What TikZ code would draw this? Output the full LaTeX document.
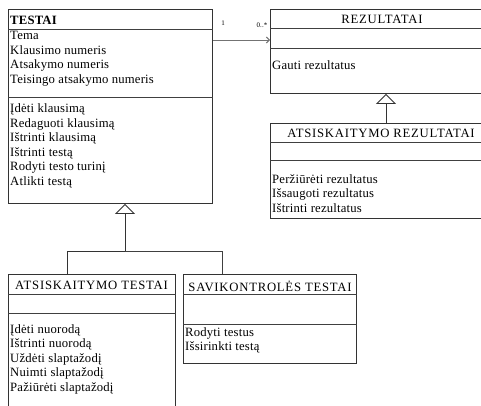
\documentclass[tikz,border=0pt]{standalone}
\usepackage{fontspec}
\setmainfont{Liberation Serif}[LetterSpace=1.5]
\newfontfamily\ttlfont{Liberation Serif}[LetterSpace=6]
\usetikzlibrary{arrows.meta}

\begin{document}
\begin{tikzpicture}[x=1pt, y=-1pt,
  cls/.style={draw=black!80, line width=0.9pt, rectangle, inner sep=0pt, anchor=north west},
  sep/.style={draw=black!75, line width=0.9pt},
  mem/.style={anchor=base west, inner sep=0pt, font=\fontsize{12.7}{14.5}\selectfont},
  ttl/.style={anchor=base, inner sep=0pt, font=\ttlfont\fontsize{12.7}{14.5}\selectfont},
  mult/.style={inner sep=0pt, font=\fontsize{7}{8}\selectfont},
  gen/.style={draw=black!80, line width=0.9pt, -{Triangle[length=10pt,width=20pt,fill=white]}},
  assoc/.style={draw=black!55, line width=1pt, -{Straight Barb[length=3pt,width=6pt]}}]

\useasboundingbox (0,0) rectangle (481,405);

\node[cls, minimum width=204pt, minimum height=194pt] (testai) at (8,9) {};
\node[cls, minimum width=223pt, minimum height=84pt] (rez) at (270,9) {};
\node[cls, minimum width=223pt, minimum height=95pt] (atsrez) at (270,123) {};
\node[cls, minimum width=167pt, minimum height=140pt] (atstest) at (8,274) {};
\node[cls, minimum width=173pt, minimum height=89pt] (savtest) at (183,274) {};

\draw[sep] ([yshift=-20pt]testai.north west) -- ([yshift=-20pt]testai.north east);
\draw[sep] ([yshift=-88pt]testai.north west) -- ([yshift=-88pt]testai.north east);
\draw[sep] ([yshift=-19pt]rez.north west) -- ([yshift=-19pt]rez.north east);
\draw[sep] ([yshift=-39pt]rez.north west) -- ([yshift=-39pt]rez.north east);
\draw[sep] ([yshift=-19pt]atsrez.north west) -- ([yshift=-19pt]atsrez.north east);
\draw[sep] ([yshift=-37pt]atsrez.north west) -- ([yshift=-37pt]atsrez.north east);
\draw[sep] ([yshift=-20pt]atstest.north west) -- ([yshift=-20pt]atstest.north east);
\draw[sep] ([yshift=-39pt]atstest.north west) -- ([yshift=-39pt]atstest.north east);
\draw[sep] ([yshift=-20pt]savtest.north west) -- ([yshift=-20pt]savtest.north east);
\draw[sep] ([yshift=-50pt]savtest.north west) -- ([yshift=-50pt]savtest.north east);

\node[mem, font=\fontsize{12.7}{14.5}\selectfont\bfseries] (testai-t) at (10,24.5) {TESTAI};
\foreach \t [count=\i] in {Tema, Klausimo numeris, Atsakymo numeris, Teisingo atsakymo numeris}
  \node[mem] (testai-a\i) at (10,25+14.5*\i) {\t};
\foreach \t [count=\i] in {Įdėti klausimą, Redaguoti klausimą, Ištrinti klausimą, Ištrinti testą, Rodyti testo turinį, Atlikti testą}
  \node[mem] (testai-o\i) at (10,98+14.5*\i) {\t};

\node[ttl] (rez-t) at (382,23.5) {REZULTATAI};
\node[mem] (rez-o1) at (272,69) {Gauti rezultatus};

\node[ttl] (atsrez-t) at (381,137.5) {ATSISKAITYMO REZULTATAI};
\foreach \t [count=\i] in {Peržiūrėti rezultatus, Išsaugoti rezultatus, Ištrinti rezultatus}
  \node[mem] (atsrez-o\i) at (272,168.5+14.5*\i) {\t};

\node[ttl] (atstest-t) at (91.5,289.5) {ATSISKAITYMO TESTAI};
\foreach \t [count=\i] in {Įdėti nuorodą, Ištrinti nuorodą, Uždėti slaptažodį, Nuimti slaptažodį, Pažiūrėti slaptažodį}
  \node[mem] (atstest-o\i) at (10,318.5+14.5*\i) {\t};

\node[ttl] (savtest-t) at (270,291.5) {SAVIKONTROLĖS TESTAI};
\foreach \t [count=\i] in {Rodyti testus, Išsirinkti testą}
  \node[mem] (savtest-o\i) at (185,321.5+14.5*\i) {\t};

\coordinate (gt) at (125,251);
\draw[gen] ([xshift=59pt]atstest.north west) |- (gt) -- (testai.south -| gt);
\draw[sep] ([xshift=39pt]savtest.north west) |- (gt);
\coordinate (gr) at (386,110);
\draw[gen] (atsrez.north -| gr) -- (rez.south -| gr);

\draw[assoc] ([yshift=-31pt]testai.north east) -- ([yshift=-31pt]rez.north west);
\node[mult] (m1) at (223,23) {1};
\node[mult] (m2) at (262,25) {0..*};
\end{tikzpicture}
\end{document}
